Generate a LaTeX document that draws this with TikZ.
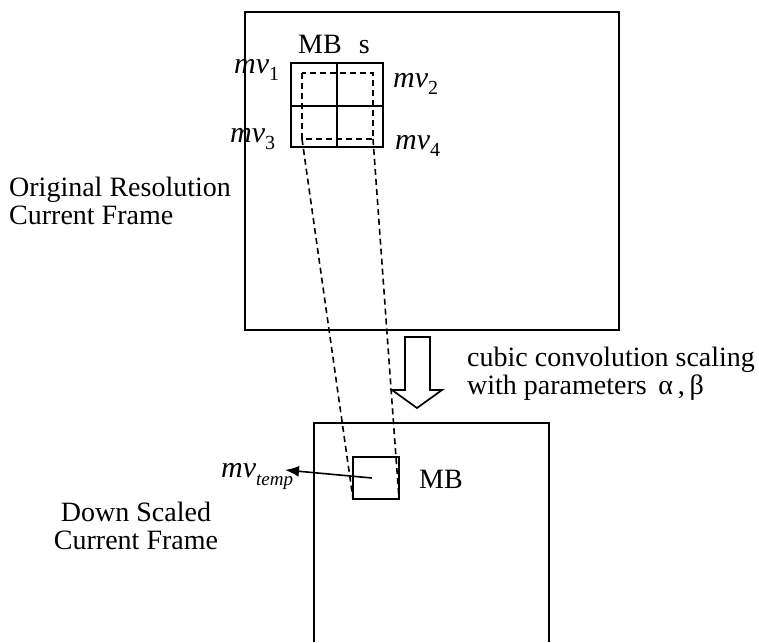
\documentclass[tikz,border=0pt]{standalone}
\usepackage{fontspec}
\setmainfont{Liberation Serif}
\usetikzlibrary{arrows.meta}
\newcommand{\mvlab}[1]{{\fontsize{30}{30}\selectfont\textit{mv}}\raisebox{-7pt}{\fontsize{20}{20}\selectfont #1}}
\newcommand{\mvtemp}{{\fontsize{30}{30}\selectfont\textit{mv}}\raisebox{-8pt}{\fontsize{19}{19}\selectfont\itshape temp}}
\tikzset{
  frame/.style={line width=1.7pt},
  gridline/.style={line width=1.7pt},
  dashline/.style={line width=1.6pt, dash pattern=on 6pt off 4pt},
  txt/.style={inner sep=0pt, font=\fontsize{28}{28}\selectfont},
  lbl/.style={inner sep=0pt, anchor=base west, font=\fontsize{28}{28}\selectfont},
  hollow/.style={line width=1.7pt, fill=white, line join=miter},
  ptr/.style={line width=1.6pt, -{Latex[length=14pt,width=11pt]}}
}
\begin{document}
\begin{tikzpicture}[x=1pt,y=-1pt]
\path[use as bounding box] (0,0) rectangle (759,642);
% top frame
\draw[frame] (245,12) rectangle (619,330);
% 2x2 grid of MBs
\draw[gridline] (291,63) rectangle (383,147);
\draw[gridline] (337,63) -- (337,147);
\draw[gridline] (291,106) -- (383,106);
% dashed square
\coordinate (dsTL) at (302,73);
\coordinate (dsBR) at (373,139);
\coordinate (dsBL) at (302,139);
\draw[dashline] (dsTL) rectangle (dsBR);
% labels at grid
\node[lbl] (mbs) at (298,53) {MB\hspace{17pt}s};
\node[lbl] (mv1) at (234,73) {\mvlab{1}};
\node[lbl] (mv2) at (393,87) {\mvlab{2}};
\node[lbl] (mv3) at (230,142) {\mvlab{3}};
\node[lbl] (mv4) at (395,149) {\mvlab{4}};
% left label top
\node[txt, anchor=north west, align=left] (orig) at (9,177) {Original Resolution\\Current Frame};
% bottom frame (open at bottom)
\draw[frame] (314,642) -- (314,423) -- (549,423) -- (549,642);
% small MB box
\coordinate (sbTL) at (353,457);
\coordinate (sbBR) at (399,499);
\coordinate (sbBL) at (353,499);
\draw[frame] (sbTL) rectangle (sbBR);
\node[lbl] (mb) at (419,488) {MB};
% dashed projection lines
\draw[dashline] (dsBL) -- (sbBL);
\draw[dashline] (dsBR) -- (sbBR);
% hollow arrow
\draw[hollow] (405,337) -- (430,337) -- (430,390) -- (442,390) -- (417,408) -- (392,390) -- (405,390) -- cycle;
\node[txt, anchor=north west, align=left] (conv) at (467,347) {cubic convolution scaling\\with parameters \,α\,,\,β};
% mv temp
\node[lbl] (mvt) at (221,477) {\mvtemp};
\coordinate (mvtail) at (372,478);
\coordinate (mvtip) at (285,470);
\draw[ptr] (mvtail) -- (mvtip);
% bottom left label
\node[txt, anchor=north, align=center] (down) at (136,502) {Down Scaled\\Current Frame};
\end{tikzpicture}
\end{document}
